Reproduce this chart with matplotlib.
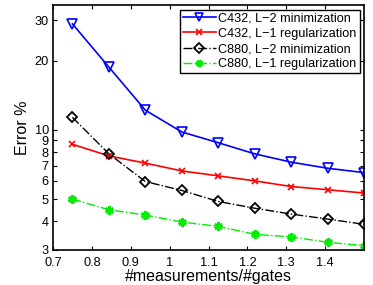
import matplotlib
matplotlib.use("Agg")
import matplotlib.pyplot as plt
from matplotlib.ticker import FixedLocator, FixedFormatter, NullLocator

plt.rcParams["font.family"] = ["Liberation Sans", "DejaVu Sans"]

# ratio #measurements/#gates
ratio = [0.75, 0.84375, 0.9375, 1.03125, 1.125, 1.21875, 1.3125, 1.40625, 1.5]

c432_l2 = [29.0, 18.8, 12.2, 9.8, 8.8, 7.87, 7.24, 6.81, 6.52]
c432_l1 = [8.66, 7.71, 7.17, 6.63, 6.31, 6.0, 5.67, 5.49, 5.31]
c880_l2 = [11.35, 7.87, 5.96, 5.45, 4.88, 4.56, 4.3, 4.09, 3.88]
c880_l1 = [5.0, 4.49, 4.26, 3.97, 3.80, 3.51, 3.42, 3.24, 3.13]

labels = ["C432, L\u22122 minimization", "C432, L\u22121 regularization",
          "C880, L\u22122 minimization", "C880, L\u22121 regularization"]

yticks = [3, 4, 5, 6, 7, 8, 9, 10, 20, 30]
xticks = [0.7, 0.8, 0.9, 1.0, 1.1, 1.2, 1.3, 1.4]
xticklabels = ["0.7", "0.8", "0.9", "1", "1.1", "1.2", "1.3", "1.4"]

fig = plt.figure(figsize=(3.73, 2.85), dpi=100)
ax = fig.add_axes([0.142, 0.123, 0.834, 0.859])

ax.plot(ratio, c432_l2, color="blue", ls="-", lw=1.2, marker="v", ms=7,
        mfc="none", mec="blue", mew=1.2, label=labels[0])
ax.plot(ratio, c432_l1, color="red", ls="-", lw=1.2, marker="x", ms=5,
        mew=1.2, label=labels[1])
ax.plot(ratio, c880_l2, color="black", ls="-.", lw=1.0, marker="D", ms=5.5,
        mfc="none", mec="black", mew=1.3, label=labels[2])
ax.plot(ratio, c880_l1, color="#00ee00", ls="-.", lw=1.0, marker=(6, 2, 0), ms=6,
        mew=2, label=labels[3])

ax.set_yscale("log")
ax.set_xlim(0.7, 1.5)
ax.set_ylim(3, 35)
ax.yaxis.set_major_locator(FixedLocator(yticks))
ax.yaxis.set_major_formatter(FixedFormatter([str(t) for t in yticks]))
ax.yaxis.set_minor_locator(NullLocator())
ax.xaxis.set_major_locator(FixedLocator(xticks))
ax.xaxis.set_major_formatter(FixedFormatter(xticklabels))

ax.tick_params(direction="in", which="both", top=True, right=True,
               labelsize=9.2, length=3, width=0.8)
ax.tick_params(axis="x", pad=5)
ax.tick_params(axis="y", pad=3)
for s in ax.spines.values():
    s.set_linewidth(1.2)

ax.set_xlabel("#measurements/#gates", fontsize=11.5, labelpad=0)
ax.set_ylabel("Error %", fontsize=11.5, labelpad=3)

leg = ax.legend(loc="upper right", fontsize=9.1, frameon=True, fancybox=False,
                edgecolor="black", framealpha=1, handlelength=2.6,
                handletextpad=0.2, borderpad=0.25, labelspacing=0.25,
                borderaxespad=0.35, markerscale=0.85)
leg.get_frame().set_linewidth(1.0)

fig.savefig("out.png", dpi=100)
